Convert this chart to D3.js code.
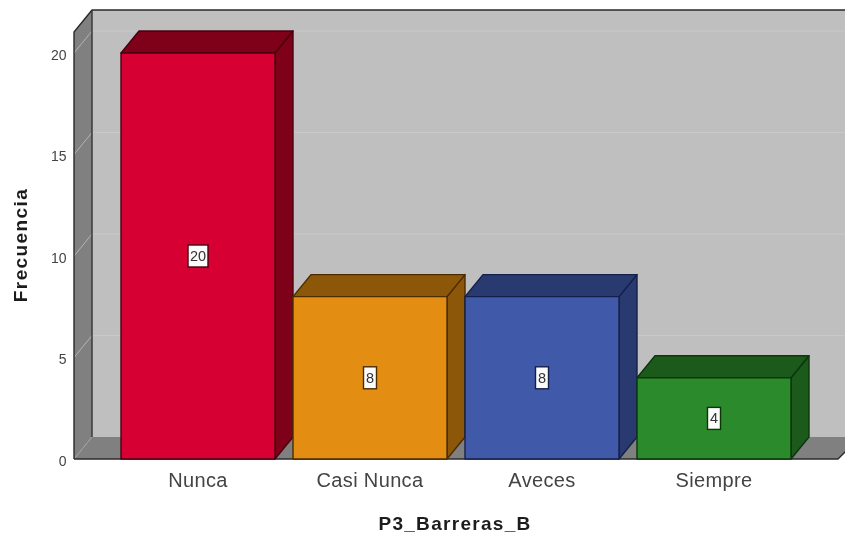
<!DOCTYPE html>
<html><head><meta charset="utf-8">
<script src="https://cdn.jsdelivr.net/npm/d3@7"></script>
<style>html,body{margin:0;padding:0;background:#fff}svg{display:block;filter:blur(0.4px)}text{font-family:"Liberation Sans",Arial,sans-serif}</style>
</head><body><svg id="c" width="845" height="541"></svg>
<script>
const categories = ["Nunca","Casi Nunca","Aveces","Siempre"];
const values = [20,8,8,4];
const frontColors = ["#d60032","#e38e12","#4059a8","#2b8a2b"];
const sideColors = ["#7e0019","#8c5708","#293a70","#1b5a1b"];
const edgeColors = ["#4a0010","#4a2c00","#14204a","#0c360c"];
const yTicks = [0,5,10,15,20];
const xTitle = "P3_Barreras_B", yTitle = "Frecuencia";

const W=845,H=541, dx=18, dy=-22;
const svg=d3.select("#c");
const y=d3.scaleLinear().domain([0,20]).range([459,53]);
const x=d3.scaleBand().domain(categories).range([121,791]).paddingInner(18/172);
const left=74, right=838, topBack=10;
const line=d3.line();
const poly=(pts,fill,stroke,sw)=>svg.append("path").attr("d",line(pts)+"Z").attr("fill",fill)
  .attr("stroke",stroke||"none").attr("stroke-width",sw||0).attr("stroke-linejoin","round");

// back wall, left wall, floor
poly([[left+dx,topBack],[W+2,topBack],[W+2,y(0)+dy],[left+dx,y(0)+dy]],"#bfbfbf");
poly([[left,topBack-dy],[left+dx,topBack],[left+dx,y(0)+dy],[left,y(0)]],"#808080");
poly([[left,y(0)],[left+dx,y(0)+dy],[W+2,y(0)+dy],[W+2,y(0)+dy+13],[right,y(0)]],"#808080");

// gridlines
yTicks.filter(d=>d>0).forEach(d=>{
  svg.append("line").attr("x1",left+dx).attr("x2",W).attr("y1",y(d)+dy).attr("y2",y(d)+dy).attr("stroke","#c9c9c9").attr("stroke-width",1);
  svg.append("line").attr("x1",left).attr("x2",left+dx).attr("y1",y(d)).attr("y2",y(d)+dy).attr("stroke","#b4b4b4").attr("stroke-width",1);
});
svg.append("line").attr("x1",left).attr("x2",left+dx).attr("y1",y(0)).attr("y2",y(0)+dy).attr("stroke","#a0a0a0");

// wall edges
svg.append("path").attr("d",line([[left,y(0)],[left,topBack-dy],[left+dx,topBack],[W+2,topBack]])).attr("fill","none").attr("stroke","#2a2a2a").attr("stroke-width",1.4);
svg.append("path").attr("d",line([[left+dx,topBack],[left+dx,y(0)+dy]])).attr("fill","none").attr("stroke","#333").attr("stroke-width",1.4);
svg.append("path").attr("d",line([[W+2,y(0)+dy+13],[right,y(0)],[left,y(0)]])).attr("fill","none").attr("stroke","#2a2a2a").attr("stroke-width",1.4);

// bars
categories.forEach((c,i)=>{
  const x0=x(c), x1=x0+x.bandwidth(), yt=y(values[i]), yb=y(0), e=edgeColors[i];
  poly([[x1,yt],[x1+dx,yt+dy],[x1+dx,yb+dy],[x1,yb]],sideColors[i],e,1.4);
  poly([[x0,yt],[x0+dx,yt+dy],[x1+dx,yt+dy],[x1,yt]],sideColors[i],e,1.4);
  poly([[x0,yt],[x1,yt],[x1,yb],[x0,yb]],frontColors[i],e,1.4);
  const cx=(x0+x1)/2, cy=y(values[i]/2);
  const s=String(values[i]), bw=s.length>1?20:13;
  svg.append("rect").attr("x",cx-bw/2).attr("y",cy-11).attr("width",bw).attr("height",22)
    .attr("fill","#fbfbfb").attr("stroke",e).attr("stroke-width",1.4);
  svg.append("text").attr("x",cx).attr("y",cy+5).attr("text-anchor","middle").attr("font-size",14.5).attr("fill","#333").text(s);
  svg.append("text").attr("x",cx).attr("y",487).attr("text-anchor","middle").attr("font-size",20).attr("letter-spacing",0.35).attr("fill","#444").text(c);
});

// y tick labels
yTicks.forEach(d=>svg.append("text").attr("x",66.5).attr("y",y(d)+6.5).attr("text-anchor","end").attr("font-size",14).attr("fill","#444").text(d));

// titles
svg.append("text").attr("x",455).attr("y",530).attr("text-anchor","middle").attr("font-size",19).attr("letter-spacing",1.3).attr("font-weight","bold").attr("fill","#1c1c1c").text(xTitle);
svg.append("text").attr("transform","translate(27,245) rotate(-90)").attr("text-anchor","middle").attr("font-size",19).attr("letter-spacing",1.4).attr("font-weight","bold").attr("fill","#1c1c1c").text(yTitle);
</script></body></html>
